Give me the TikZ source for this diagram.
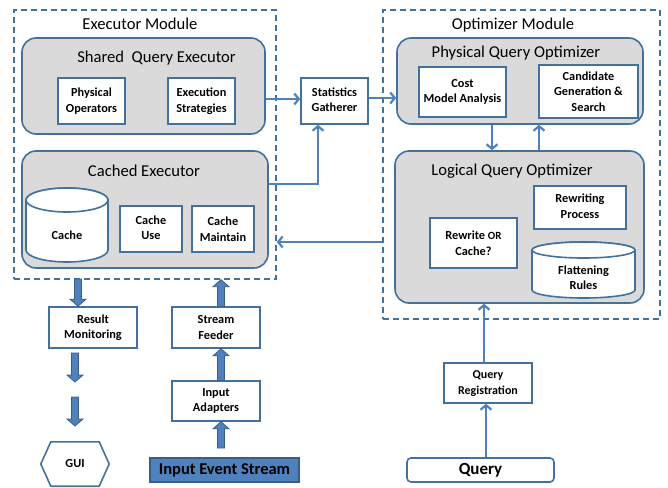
\documentclass[tikz,border=0pt]{standalone}
\usepackage{fontspec}
\setmainfont{Carlito}
\usetikzlibrary{arrows.meta,calc}
\definecolor{edge}{HTML}{41719C}
\definecolor{flow}{HTML}{4F81BD}
\definecolor{panel}{HTML}{DADADA}
\definecolor{deep}{HTML}{385D8A}

\tikzset{
  module/.style={draw=edge, dash pattern=on 6pt off 4pt, line width=1.4pt, inner sep=0pt},
  group/.style={draw=edge, fill=panel, rounded corners=14pt, line width=1.6pt, inner sep=0pt},
  box/.style={draw=edge, fill=white, line width=1.6pt, align=center, inner sep=0pt,
    font=\bfseries\fontsize{12.3}{15.5}\selectfont},
  plain/.style={align=center, inner sep=0pt, font=\bfseries\fontsize{12.3}{15.5}\selectfont},
  cyl/.style={draw=edge, fill=white, line width=1.6pt},
  arr/.style={draw=flow, line width=2.2pt, -{Straight Barb[length=4.5pt,width=11pt]}},
  title/.style={inner sep=0pt, font=\fontsize{16.6}{19}\selectfont},
  blockarrow/.style={fill=flow, draw=deep, line width=0.8pt},
}

% thick block arrows between two points on one vertical line
\newcommand\blockdown[2]{\path[blockarrow] let \p1=(#1), \p2=(#2) in
  (\x1-3.5pt,\y1) -- (\x1-3.5pt,\y2+7pt) -- (\x1-8pt,\y2+7pt) -- (\x1,\y2)
  -- (\x1+8pt,\y2+7pt) -- (\x1+3.5pt,\y2+7pt) -- (\x1+3.5pt,\y1) -- cycle;}
\newcommand\blockup[2]{\path[blockarrow] let \p1=(#1), \p2=(#2) in
  (\x1-3.5pt,\y1) -- (\x1-3.5pt,\y2-7pt) -- (\x1-8pt,\y2-7pt) -- (\x1,\y2)
  -- (\x1+8pt,\y2-7pt) -- (\x1+3.5pt,\y2-7pt) -- (\x1+3.5pt,\y1) -- cycle;}

\begin{document}
\begin{tikzpicture}[x=1pt,y=-1pt]
\useasboundingbox (0,0) rectangle (668,487);

% ---------------- Executor module ----------------
\node[module, minimum width=262pt, minimum height=269pt] (exm) at (145,144.5) {};
\node[title] (exmt) at (140,24) {Executor Module};

\node[group, minimum width=243pt, minimum height=96pt] (sqe) at (143.5,86) {};
\node[title] (sqet) at (156.5,58) {Shared\ \ Query Executor};
\node[box, minimum width=67pt, minimum height=46pt] (po) at (91.5,101) {Physical\\Operators};
\node[box, minimum width=67pt, minimum height=46pt] (es) at (201.5,101) {Execution\\Strategies};

\node[group, minimum width=246pt, minimum height=117pt] (ce) at (145,209.5) {};
\node[title] (cet) at (144,171) {Cached Executor};

% cache store
\filldraw[cyl] (26,200) -- (26,250)
  arc[start angle=180, end angle=360, x radius=41pt, y radius=12pt] -- (108,200)
  arc[start angle=0, end angle=180, x radius=41pt, y radius=12pt] -- cycle;
\draw[cyl] (67,200) ellipse[x radius=41pt, y radius=12pt];
\node[plain] (cache) at (67,235) {Cache};

\node[box, minimum width=62pt, minimum height=46pt] (cu) at (151,229) {\raisebox{-2pt}{\begin{tabular}{@{}c@{}}Cache\\[-0.5pt]Use\end{tabular}}};
\node[box, minimum width=62pt, minimum height=46pt] (cm) at (223,229) {Cache\\Maintain};

% ---------------- Statistics ----------------
\node[box, minimum width=67pt, minimum height=46pt] (sg) at (334.5,101) {\raisebox{2pt}{\begin{tabular}{@{}c@{}}Statistics\\[-0.5pt]Gatherer\end{tabular}}};

% ---------------- Optimizer module ----------------
\node[module, minimum width=277pt, minimum height=309pt] (opm) at (521.5,164.5) {};
\node[title] (opmt) at (513,25) {Optimizer Module};

\node[group, minimum width=246pt, minimum height=86pt] (pqo) at (520,81) {};
\node[title] (pqot) at (516,53) {Physical Query Optimizer};
\node[box, minimum width=87pt, minimum height=50pt] (cma) at (462.5,92) {Cost\\Model Analysis};
\node[box, minimum width=99pt, minimum height=53pt] (cgs) at (588.5,91.5) {Candidate\\Generation \&\\Search};

\node[group, minimum width=249pt, minimum height=152pt] (lqo) at (519.5,227) {};
\node[title] (lqot) at (512,171) {Logical Query Optimizer};
\node[box, minimum width=92pt, minimum height=43pt] (rp) at (580,207.5) {\raisebox{3pt}{\begin{tabular}{@{}c@{}}Rewriting\\[0pt]Process\end{tabular}}};
\node[box, minimum width=87pt, minimum height=50pt] (roc) at (473.5,243) {Rewrite {\fontsize{11}{12}\selectfont OR}\\Cache?};

% flattening rules store
\filldraw[cyl] (532,250) -- (532,290)
  arc[start angle=180, end angle=360, x radius=51.5pt, y radius=8pt] -- (635,250)
  arc[start angle=0, end angle=180, x radius=51.5pt, y radius=8pt] -- cycle;
\draw[cyl] (583.5,250) ellipse[x radius=51.5pt, y radius=8pt];
\node[plain] (fr) at (583.5,277.5) {Flattening\\Rules};

% ---------------- Query side ----------------
\node[box, minimum width=88pt, minimum height=40pt, font=\bfseries\fontsize{12}{16}\selectfont] (qr) at (488,383) {\raisebox{3pt}{\begin{tabular}{@{}c@{}}Query\\[0pt]Registration\end{tabular}}};
\node[box, rounded corners=4pt, minimum width=147pt, minimum height=24pt, font=\bfseries\fontsize{17}{19}\selectfont] (q) at (480.5,470) {Query};

% ---------------- Stream side ----------------
\node[box, minimum width=88pt, minimum height=41pt] (rm) at (93,327.5) {Result\\Monitoring};
\node[box, minimum width=88pt, minimum height=41pt] (sf) at (216,327.5) {Stream\\Feeder};
\node[box, minimum width=88pt, minimum height=40pt] (ia) at (216,401) {Input\\Adapters};
\node[plain, minimum width=68pt, minimum height=44pt] (gui) at (75,464) {GUI};
\draw[draw=edge, line width=1.6pt] (gui.west) -- ([xshift=10pt]gui.north west) -- ([xshift=-10pt]gui.north east)
  -- (gui.east) -- ([xshift=-10pt]gui.south east) -- ([xshift=10pt]gui.south west) -- cycle;
\node[draw=deep, fill=flow, line width=1.3pt, inner sep=0pt, minimum width=149pt, minimum height=24pt,
  font=\bfseries\fontsize{16.5}{19}\selectfont] (ies) at (224.5,470) {Input Event Stream};

% ---------------- thin connectors ----------------
\coordinate (a1) at ([yshift=2pt]sg.west);
\draw[arr] (a1 -| sqe.east) -- (a1);
\draw[arr] ([yshift=25.5pt]ce.east) -| ([xshift=-16.5pt]sg.south);
\coordinate (s1) at ([yshift=3pt]sg.east);
\draw[arr] (s1) -- (s1 -| pqo.west);
\coordinate (d1) at ([xshift=-28pt]pqo.south);
\draw[arr] (d1) -- (d1 |- lqo.north);
\coordinate (u1) at ([xshift=19.5pt]lqo.north);
\draw[arr] (u1) -- (u1 |- pqo.south);
\coordinate (b1) at ([yshift=-77.5pt]opm.west);
\draw[arr] (b1) -- (b1 -| exm.east);
\coordinate (r1) at ([xshift=-4pt]qr.north);
\draw[arr] (r1) -- (r1 |- lqo.south);
\coordinate (q1) at ([xshift=5.5pt]q.north);
\draw[arr] (q1) -- (q1 |- qr.south);

% ---------------- block arrows ----------------
\coordinate (e1) at (78,279);
\blockdown{e1}{e1 |- rm.north}
\coordinate (g1) at (75,353);
\coordinate (g2) at (75,382);
\coordinate (g3) at (75,397);
\coordinate (g4) at (75,426);
\blockdown{g1}{g2}
\blockdown{g3}{g4}
\coordinate (f1) at ([xshift=5pt]sf.north);
\blockup{f1}{f1 |- exm.south}
\coordinate (f2) at ([xshift=5pt]ia.north);
\blockup{f2}{f2 |- sf.south}
\coordinate (i1) at (221,448);
\blockup{i1}{i1 |- ia.south}
\end{tikzpicture}
\end{document}
